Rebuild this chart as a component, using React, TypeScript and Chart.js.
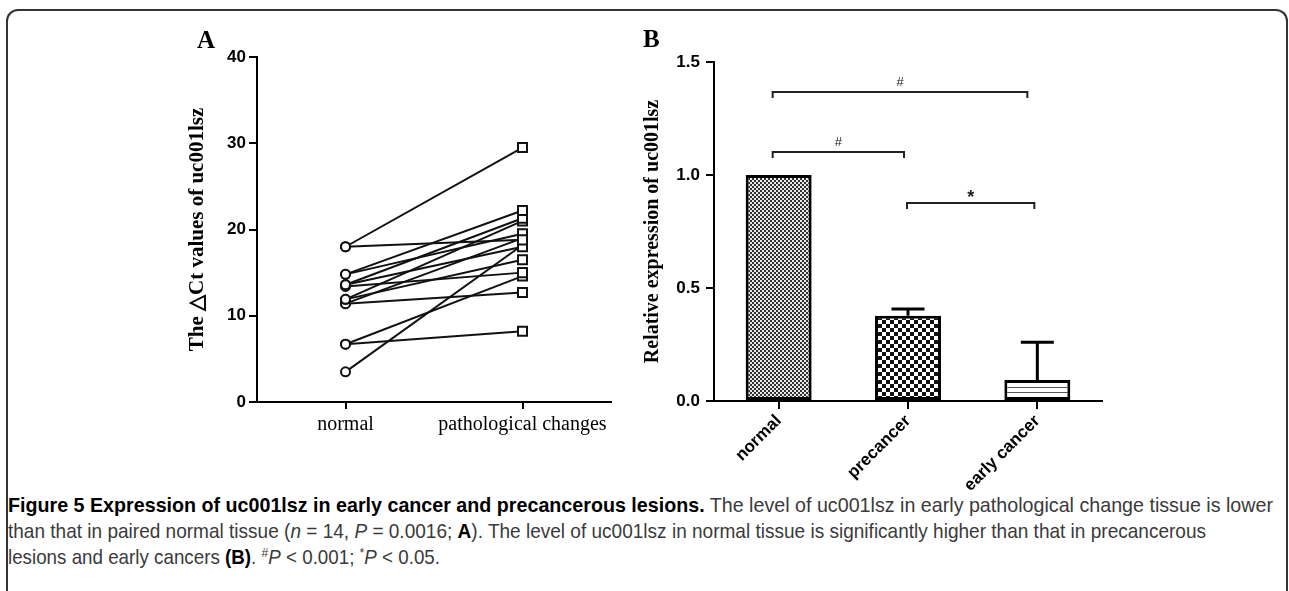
import React, { useEffect, useLayoutEffect, useRef } from 'react';
import { Chart, registerables } from 'chart.js';

Chart.register(...registerables);

// ---------- Panel A data ----------
const groupsA = ['normal', 'pathological changes'];
const normalDeltaCt = [18.0, 18.0, 14.8, 14.8, 13.6, 13.6, 13.4, 11.9, 11.9, 11.4, 11.4, 6.7, 6.7, 3.5];
const pathologicalDeltaCt = [29.5, 18.8, 22.2, 19.5, 21.3, 18.0, 15.0, 21.0, 16.5, 12.7, 19.0, 8.2, 14.6, 18.2];
const yTicksA = [0, 10, 20, 30, 40];

// ---------- Panel B data ----------
const groupsB = ['normal', 'precancer', 'early cancer'];
const relativeExpression = [1.0, 0.377, 0.093];
const expressionError = [0, 0.03, 0.167];
const yTicksB = [0.0, 0.5, 1.0, 1.5];
const bracketFrom = [0, 0, 1];
const bracketTo = [2, 1, 2];
const bracketLevel = [1.367, 1.1, 0.876];
const bracketMark = ['#', '#', '*'];

const SERIF = '"Liberation Serif", "Times New Roman", serif';
const SANS = '"Liberation Sans", Arial, sans-serif';

function makePattern(kind: string): CanvasPattern | string {
  const c = document.createElement('canvas');
  const ctx = c.getContext('2d');
  if (!ctx) return '#888';
  if (kind === 'fine') {
    c.width = 4; c.height = 4;
    ctx.fillStyle = '#e8e8e8'; ctx.fillRect(0, 0, 4, 4);
    ctx.fillStyle = '#333'; ctx.fillRect(0, 0, 2, 2); ctx.fillRect(2, 2, 2, 2);
  } else if (kind === 'coarse') {
    c.width = 8; c.height = 8;
    ctx.fillStyle = '#fff'; ctx.fillRect(0, 0, 8, 8);
    ctx.fillStyle = '#111'; ctx.fillRect(0, 0, 4, 4); ctx.fillRect(4, 4, 4, 4);
  } else {
    c.width = 5; c.height = 5;
    ctx.fillStyle = '#fff'; ctx.fillRect(0, 0, 5, 5);
    ctx.fillStyle = '#555'; ctx.fillRect(0, 2, 5, 1);
  }
  return ctx.createPattern(c, 'repeat') || '#888';
}

const errorBarPlugin = {
  id: 'errorBars',
  afterDatasetsDraw(chart: any) {
    const { ctx, scales } = chart;
    const x = scales.x, y = scales.y;
    ctx.save();
    ctx.strokeStyle = '#000';
    ctx.lineWidth = 3;
    relativeExpression.forEach((v, i) => {
      const e = expressionError[i];
      if (!e) return;
      const px = x.getPixelForValue(i);
      const base = y.getPixelForValue(v);
      const top = y.getPixelForValue(v + e);
      ctx.beginPath();
      ctx.moveTo(px, base);
      ctx.lineTo(px, top);
      ctx.moveTo(px - 16.5, top);
      ctx.lineTo(px + 16.5, top);
      ctx.stroke();
    });
    ctx.restore();
  },
};

const bracketInset = [[-6, -10], [-6, -4], [-1, -3]];

const bracketPlugin = {
  id: 'brackets',
  afterDatasetsDraw(chart: any) {
    const { ctx, scales } = chart;
    const x = scales.x, y = scales.y;
    ctx.save();
    ctx.strokeStyle = '#222';
    ctx.fillStyle = '#222';
    ctx.lineWidth = 2;
    bracketLevel.forEach((lvl, i) => {
      const x1 = x.getPixelForValue(bracketFrom[i]) + bracketInset[i][0];
      const x2 = x.getPixelForValue(bracketTo[i]) + bracketInset[i][1];
      const py = Math.round(y.getPixelForValue(lvl));
      ctx.beginPath();
      ctx.moveTo(x1, py + 6);
      ctx.lineTo(x1, py);
      ctx.lineTo(x2, py);
      ctx.lineTo(x2, py + 6);
      ctx.stroke();
      const mark = bracketMark[i];
      ctx.textAlign = 'center';
      ctx.textBaseline = 'alphabetic';
      if (mark === '*') {
        ctx.font = 'bold 18px ' + SANS;
        ctx.fillText(mark, (x1 + x2) / 2, py - 0);
      } else {
        ctx.font = '13px ' + SANS;
        ctx.fillText(mark, (x1 + x2) / 2, py - 6);
      }
    });
    ctx.restore();
  },
};

const captionTargets = [1265, 1198, 432];

function Caption() {
  const refs = [useRef<HTMLDivElement>(null), useRef<HTMLDivElement>(null), useRef<HTMLDivElement>(null)];
  useLayoutEffect(() => {
    refs.forEach((r, i) => {
      const el = r.current;
      if (!el) return;
      el.style.transform = 'none';
      const w = el.getBoundingClientRect().width;
      if (w > 0) el.style.transform = 'scaleX(' + captionTargets[i] / w + ')';
    });
  }, []);
  const lineStyle: React.CSSProperties = {
    position: 'absolute', left: 8, whiteSpace: 'nowrap', transformOrigin: '0 0',
    fontFamily: SANS, fontSize: 21, lineHeight: '25px', color: '#3a3a3a',
  };
  const supStyle: React.CSSProperties = { fontSize: '0.65em', position: 'relative', top: '-0.55em' };
  return (
    <>
      <div ref={refs[0]} style={{ ...lineStyle, top: 492 }}>
        <span style={{ fontWeight: 'bold', color: '#000' }}>Figure 5 Expression of uc001lsz in early cancer and precancerous lesions.</span>
        {' '}The level of uc001lsz in early pathological change tissue is lower
      </div>
      <div ref={refs[1]} style={{ ...lineStyle, top: 518 }}>
        than that in paired normal tissue (<i>n</i> = 14, <i>P</i> = 0.0016; <b style={{ color: '#000' }}>A</b>). The level of uc001lsz in normal tissue is significantly higher than that in precancerous
      </div>
      <div ref={refs[2]} style={{ ...lineStyle, top: 544 }}>
        lesions and early cancers <b style={{ color: '#000' }}>(B)</b>. <span style={supStyle}>#</span><i>P</i> &lt; 0.001; <span style={supStyle}>*</span><i>P</i> &lt; 0.05.
      </div>
    </>
  );
}

export default function App() {
  const refA = useRef<HTMLCanvasElement>(null);
  const refB = useRef<HTMLCanvasElement>(null);

  useEffect(() => {
    if (!refA.current || !refB.current) return;

    const datasetsA = normalDeltaCt.map((n, i) => ({
      label: 'pair ' + (i + 1),
      data: [n, pathologicalDeltaCt[i]],
      borderColor: '#111',
      borderWidth: 2,
      pointStyle: ['circle', 'rect'],
      pointRadius: [4.5, 6.4],
      pointBorderWidth: 2,
      pointBorderColor: '#111',
      pointBackgroundColor: '#fff',
      fill: false,
      tension: 0,
    }));

    const chartA = new Chart(refA.current, {
      type: 'line',
      data: { labels: groupsA, datasets: datasetsA as any },
      options: {
        animation: false,
        responsive: false,
        devicePixelRatio: 1,
        layout: { padding: { left: 31, right: 19, top: 27, bottom: 0 } },
        plugins: { legend: { display: false }, tooltip: { enabled: false } },
        scales: {
          x: {
            type: 'category',
            offset: true,
            grid: { drawOnChartArea: false, drawTicks: true, tickLength: 7, offset: false, color: '#000', lineWidth: 2 },
            border: { display: true, color: '#000', width: 2 },
            ticks: { color: '#000', font: { family: SERIF, size: 20 }, padding: 4, maxRotation: 0 },
            afterFit: (s: any) => { s.height = 48; },
          },
          y: {
            min: 0,
            max: 40,
            afterBuildTicks: (s: any) => { s.ticks = yTicksA.map((v) => ({ value: v })); },
            grid: { drawOnChartArea: false, drawTicks: true, tickLength: 8, color: '#000', lineWidth: 2 },
            border: { display: true, color: '#000', width: 2 },
            ticks: { color: '#000', font: { family: SANS, size: 17, weight: 'bold' }, padding: 3 },
            title: { display: true, text: 'The △Ct values of uc001lsz', color: '#000', font: { family: SERIF, size: 21, weight: 'bold' } },
            afterFit: (s: any) => { s.width = 76; },
          },
        },
      } as any,
    });

    const chartB = new Chart(refB.current, {
      type: 'bar',
      data: {
        labels: groupsB,
        datasets: [
          {
            label: 'Relative expression',
            data: relativeExpression,
            backgroundColor: [makePattern('fine'), makePattern('coarse'), makePattern('lines')] as any,
            borderColor: '#000',
            borderWidth: 3,
            borderSkipped: false,
            categoryPercentage: 1,
            barPercentage: 0.51,
          },
        ],
      },
      options: {
        animation: false,
        responsive: false,
        devicePixelRatio: 1,
        layout: { padding: { left: 7, right: 28, top: 42, bottom: 0 } },
        plugins: { legend: { display: false }, tooltip: { enabled: false } },
        scales: {
          x: {
            type: 'category',
            offset: true,
            grid: { drawOnChartArea: false, drawTicks: true, tickLength: 8, offset: false, color: '#000', lineWidth: 2 },
            border: { display: true, color: '#000', width: 2 },
            ticks: { color: '#000', font: { family: SANS, size: 17, weight: 'bold' }, padding: 2, minRotation: 45, maxRotation: 45 },
            afterFit: (s: any) => { s.height = 89; },
          },
          y: {
            min: 0,
            max: 1.5,
            afterBuildTicks: (s: any) => { s.ticks = yTicksB.map((v) => ({ value: v })); },
            grid: { drawOnChartArea: false, drawTicks: true, tickLength: 8, color: '#000', lineWidth: 2 },
            border: { display: true, color: '#000', width: 2 },
            ticks: { color: '#000', font: { family: SANS, size: 17, weight: 'bold' }, padding: 6, callback: (v: any) => Number(v).toFixed(1) },
            title: { display: true, text: 'Relative expression of uc001lsz', color: '#000', font: { family: SERIF, size: 20, weight: 'bold' } },
            afterFit: (s: any) => { s.width = 77; },
          },
        },
      } as any,
      plugins: [errorBarPlugin, bracketPlugin],
    });

    return () => {
      chartA.destroy();
      chartB.destroy();
    };
  }, []);

  return (
    <div style={{ position: 'absolute', left: 0, top: 0, width: 1289, height: 591, overflow: 'hidden', background: '#fff' }}>
      <div
        style={{
          position: 'absolute', left: 6, top: 9, width: 1282, height: 640,
          borderTop: '2px solid #333', borderLeft: '2px solid #333', borderRight: '2px solid #333',
          borderTopLeftRadius: 12, borderTopRightRadius: 12, boxSizing: 'border-box',
        }}
      />
      <canvas ref={refA} width={480} height={420} style={{ position: 'absolute', left: 150, top: 30, width: 480, height: 420 }} />
      <canvas ref={refB} width={500} height={470} style={{ position: 'absolute', left: 630, top: 20, width: 500, height: 470 }} />
      <div style={{ position: 'absolute', left: 197, top: 27, font: 'bold 25px ' + SERIF, lineHeight: '25px', color: '#000' }}>A</div>
      <div style={{ position: 'absolute', left: 643, top: 26, font: 'bold 25px ' + SERIF, lineHeight: '25px', color: '#000' }}>B</div>
      <Caption />
    </div>
  );
}
